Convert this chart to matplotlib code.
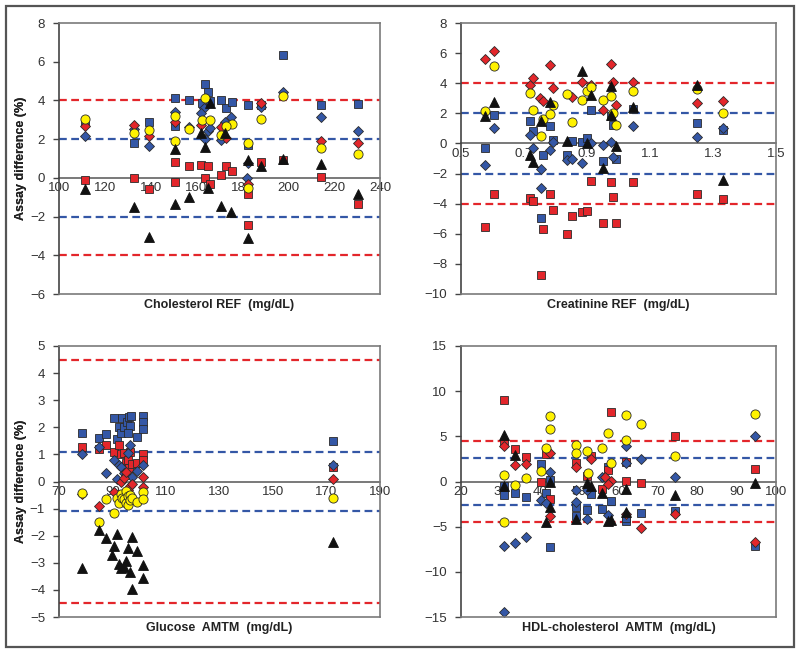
"""Bland-Altman style assay difference panels (cholesterol, creatinine, glucose, HDL)."""

import matplotlib

matplotlib.use("Agg")
import matplotlib.pyplot as plt  # noqa: E402
from matplotlib.patches import Rectangle  # noqa: E402

plt.rcParams["font.family"] = ["Liberation Sans", "DejaVu Sans"]

# ---- Cholesterol REF (mg/dL) ----
CHOL_BLUE_SQ = [(111.2, 2.9), (132.7, 1.8), (139.2, 2.9), (150.4, 4.1), (150.4, 2.7), (156.5, 4.0),
                (163.5, 4.85), (165.0, 4.42), (162.5, 3.85), (166.0, 3.95), (170.5, 4.02), (173.0, 3.63),
                (175.6, 3.94), (182.4, 3.78), (182.4, 1.7), (188.0, 3.75), (197.7, 6.37), (214.1, 3.78),
                (230.5, 3.82)]
CHOL_RED_SQ = [(111.2, -0.1), (132.7, -0.02), (139.2, -0.6), (150.4, 0.8), (150.4, -0.2), (156.5, 0.6),
               (162.0, 0.67), (165.0, 0.6), (163.5, -0.02), (165.7, -0.3), (172.7, 0.6), (175.6, 0.36),
               (170.8, 0.17), (182.4, -0.82), (182.4, -2.45), (188.0, 0.82), (197.7, 0.92), (214.1, 0.04),
               (230.5, -1.35)]
CHOL_BLUE_DIA = [(111.2, 2.17), (132.7, 2.5), (139.2, 1.65), (150.4, 3.4), (156.5, 2.65), (163.1, 3.6),
                 (162.0, 3.37), (165.0, 2.42), (166.0, 2.55), (163.5, 2.0), (175.2, 3.13), (172.3, 2.9),
                 (170.8, 1.95), (182.4, 0.75), (182.0, 0.0), (188.0, 3.65), (197.7, 4.42), (214.1, 3.12),
                 (230.5, 2.4)]
CHOL_RED_DIA = [(111.2, 2.66), (132.7, 2.75), (139.2, 2.15), (150.4, 2.9), (162.0, 2.75), (170.5, 2.65),
                (172.8, 2.05), (182.4, -0.33), (188.0, 3.85), (214.1, 1.9), (230.5, 1.78)]
CHOL_YELLOW = [(111.2, 3.04), (132.7, 2.3), (139.2, 2.45), (150.4, 3.2), (150.4, 1.9), (156.5, 2.5),
               (163.5, 4.14), (162.5, 3.0), (165.8, 3.0), (175.6, 2.8), (172.8, 2.7), (170.8, 2.22),
               (182.4, 1.82), (182.4, -0.5), (188.0, 3.05), (197.7, 4.25), (214.1, 1.55), (230.5, 1.23)]
CHOL_BLACK = [(111.2, -0.6), (132.7, -1.5), (139.2, -3.05), (150.4, 1.5), (150.4, -1.35), (156.5, -1.0),
              (166.0, 3.88), (162.0, 2.3), (163.5, 1.58), (165.0, -0.54), (172.5, 2.3), (170.5, -1.45),
              (175.2, -1.75), (182.4, 0.9), (182.4, -3.1), (188.0, 0.62), (197.7, 1.0), (214.1, 0.7),
              (230.5, -0.85)]

# ---- Creatinine REF (mg/dL) ----
CREA_BLUE_SQ = [(0.577, -0.27), (0.604, 1.88), (0.718, 1.5), (0.729, 0.84), (0.76, -0.75), (0.754, -4.92),
                (0.782, 1.18), (0.793, 0.24), (0.837, -0.75), (0.851, 0.15), (0.883, 0.1), (0.901, 0.35),
                (0.914, 2.24), (0.952, -1.15), (0.975, 1.85), (0.984, 1.22), (0.991, -1.04), (1.045, 2.31),
                (1.25, 1.35), (1.332, 0.89)]
CREA_RED_SQ = [(0.577, -5.54), (0.604, -3.39), (0.718, -3.6), (0.729, -3.79), (0.76, -5.68), (0.754, -8.76),
               (0.782, -3.33), (0.793, -4.41), (0.837, -6.0), (0.851, -4.79), (0.883, -4.57), (0.901, -4.5),
               (0.914, -2.5), (0.952, -5.3), (0.975, -2.53), (0.984, -3.53), (0.991, -5.3), (1.045, -2.59),
               (1.25, -3.39), (1.332, -3.7)]
CREA_BLUE_DIA = [(0.577, -1.42), (0.604, 1.02), (0.718, 0.55), (0.729, -0.27), (0.754, -1.69), (0.754, -2.95),
                 (0.782, -0.42), (0.793, 0.1), (0.837, -1.09), (0.851, -1.0), (0.883, -1.29), (0.914, 0.05),
                 (0.952, -0.13), (0.975, 0.1), (0.984, -0.89), (1.045, 1.13), (1.25, 0.4), (1.332, 1.0)]
CREA_RED_DIA = [(0.577, 5.63), (0.604, 6.16), (0.718, 3.9), (0.729, 4.35), (0.752, 3.02), (0.76, 2.85),
                (0.782, 5.23), (0.793, 3.68), (0.851, 3.06), (0.883, 4.1), (0.914, 3.9), (0.952, 2.25),
                (0.975, 5.28), (0.984, 4.1), (0.991, 2.55), (1.045, 4.05), (1.25, 2.66), (1.332, 2.79)]
CREA_YELLOW = [(0.577, 2.17), (0.604, 5.12), (0.718, 3.35), (0.729, 2.24), (0.76, 1.64), (0.754, 0.51),
               (0.782, 1.97), (0.793, 2.57), (0.837, 3.3), (0.851, 1.44), (0.883, 2.9), (0.901, 3.5),
               (0.914, 3.72), (0.952, 2.86), (0.975, 3.17), (0.984, 2.04), (0.991, 1.24), (1.045, 3.5),
               (1.25, 3.61), (1.332, 2.04)]
CREA_BLACK = [(0.577, 1.84), (0.604, 2.77), (0.718, -0.75), (0.729, -1.24), (0.755, 1.5), (0.782, 2.75),
              (0.837, 0.15), (0.883, 4.83), (0.901, 0.0), (0.914, 3.24), (0.952, -1.6), (0.975, 3.79),
              (0.975, 1.9), (0.991, -0.2), (1.045, 2.45), (1.25, 3.85), (1.332, -2.46)]

# ---- Glucose AMTM (mg/dL) ----
GLU_BLUE_SQ = [(78.5, 1.8), (85.0, 1.6), (87.75, 1.76), (90.5, 2.36), (91.5, 1.55), (92.5, 2.0), (93.4, 2.36),
               (93.0, 1.8), (94.25, 2.0), (95.25, 2.2), (96.0, 2.38), (96.75, 2.41), (96.5, 2.04), (95.9, 1.8),
               (99.25, 1.65), (101.5, 2.42), (101.5, 2.2), (101.5, 1.95), (172.5, 1.5)]
GLU_RED_SQ = [(78.5, 1.28), (85.0, 1.2), (87.75, 1.34), (90.5, 1.08), (92.5, 1.34), (93.0, 1.0), (94.25, 1.05),
              (95.0, 0.7), (95.9, 0.8), (96.5, 1.1), (96.0, 0.5), (97.25, 0.65), (99.25, 0.7), (101.5, 1.0),
              (101.5, 0.8), (172.5, 0.52)]
GLU_BLUE_DIA = [(78.5, 1.0), (85.0, 1.28), (87.75, 0.33), (90.5, 0.8), (91.5, 0.08), (92.5, 0.6), (93.0, 0.55),
                (94.25, 0.3), (95.0, 0.25), (95.9, 1.05), (96.5, 1.35), (97.25, 0.15), (99.25, 0.4),
                (101.5, 0.6), (172.5, 0.62)]
GLU_RED_DIA = [(78.5, -0.45), (85.0, -0.9), (90.5, -0.4), (93.0, 0.0), (94.25, 0.12), (95.0, 0.35),
               (95.9, -0.3), (96.5, -0.15), (97.25, -0.1), (101.5, 0.15), (101.5, -0.2), (172.5, 0.1)]
GLU_YELLOW = [(78.5, -0.41), (85.0, -1.48), (87.75, -0.65), (90.5, -1.16), (91.5, -0.6), (92.5, -0.81),
              (93.0, -0.45), (93.5, -0.6), (94.25, -0.65), (95.0, -0.35), (95.0, -0.8), (95.9, -0.55),
              (95.9, -0.85), (96.5, -0.5), (96.5, -0.7), (97.25, -0.6), (99.25, -0.75), (101.5, -0.4),
              (101.5, -0.65), (172.5, -0.6)]
GLU_BLACK = [(78.5, -3.21), (85.0, -1.8), (87.75, -2.1), (90.0, -2.72), (90.5, -2.39), (91.5, -1.95),
             (92.5, -3.05), (93.0, -3.2), (94.25, -3.15), (95.0, -2.94), (95.9, -2.45), (96.5, -3.35),
             (97.25, -2.06), (97.25, -3.95), (99.25, -2.55), (101.5, -3.09), (101.5, -3.55), (172.5, -2.23)]

# ---- HDL-cholesterol AMTM (mg/dL) ----
HDL_BLUE_SQ = [(31.0, -1.5), (31.0, -0.5), (33.7, -1.3), (36.4, -1.7), (40.4, 1.9), (41.6, -1.3), (42.7, 0.2),
               (42.7, -7.2), (49.1, -2.8), (49.1, -3.8), (51.9, -3.1), (52.9, -1.4), (55.9, -3.0), (57.4, 1.6),
               (58.0, -2.2), (62.0, -4.4), (62.0, -4.0), (65.6, -3.5), (74.3, -3.3), (94.7, -7.1)]
HDL_RED_SQ = [(31.0, 9.0), (31.0, 4.3), (33.7, 3.6), (36.4, 2.7), (40.4, -0.1), (41.6, 3.0), (42.7, -1.9),
              (49.1, 2.1), (51.9, 0.6), (52.9, 2.8), (55.9, -0.8), (57.4, 1.3), (58.0, 7.7), (62.0, 2.2),
              (62.0, 0.1), (65.6, -0.2), (74.3, 5.05), (94.7, 1.4)]
HDL_BLUE_DIA = [(31.0, -7.1), (31.0, -14.4), (33.7, -6.8), (36.4, -6.1), (40.4, -2.1), (41.6, -2.4), (42.7, 1.1),
                (49.1, -0.9), (49.1, -2.3), (51.9, -0.9), (51.9, -4.2), (55.9, 0.5), (57.4, -3.7), (62.0, 3.9),
                (62.0, 2.0), (65.6, 2.5), (74.3, 0.5), (94.7, 5.0)]
HDL_RED_DIA = [(31.0, 3.9), (33.7, 1.8), (36.4, 1.9), (42.7, 3.1), (42.7, -3.8), (49.1, 1.6), (52.9, 2.5),
               (56.5, 0.5), (58.0, 0.1), (57.4, -0.3), (62.0, -3.6), (65.6, -5.1), (74.3, -3.6), (94.7, -6.7)]
HDL_YELLOW = [(31.0, 0.7), (31.0, -4.5), (33.7, -0.4), (36.4, 0.4), (40.4, 1.2), (41.6, 3.7), (42.7, 7.2),
              (42.7, 5.85), (49.1, 4.0), (49.1, 3.1), (51.9, 3.4), (52.3, 0.9), (55.9, 3.7), (57.4, 5.4),
              (58.0, 2.1), (62.0, 7.4), (62.0, 4.6), (65.6, 6.4), (74.3, 2.85), (94.7, 7.5)]
HDL_BLACK = [(31.0, 5.2), (31.0, -0.5), (33.7, 2.9), (41.6, -4.5), (42.7, -0.1), (42.7, -2.8), (49.1, -4.2),
             (51.9, -0.2), (52.9, -0.5), (55.9, -1.3), (57.4, -4.4), (58.0, -4.3), (62.0, -0.8), (62.0, -3.4),
             (74.3, -1.5), (94.7, -0.2)]

# limits of agreement drawn as dashed lines (red outer, blue inner)
RED_LIMITS = [4.0, 4.0, 4.5, 4.5]
BLUE_LIMITS = [2.0, 2.0, 1.08, 2.6]

X_LABELS = ["Cholesterol REF  (mg/dL)", "Creatinine REF  (mg/dL)",
            "Glucose  AMTM  (mg/dL)", "HDL-cholesterol  AMTM  (mg/dL)"]
X_TICKS = [list(range(100, 241, 20)), [0.5, 0.7, 0.9, 1.1, 1.3, 1.5],
           list(range(70, 191, 20)), list(range(20, 101, 10))]
Y_TICKS = [list(range(-6, 9, 2)), list(range(-10, 9, 2)),
           list(range(-5, 6, 1)), list(range(-15, 16, 5))]

BLUE = "#3457a6"
RED = "#e3262b"
YELLOW = "#fff200"
EDGE = "#2a2a2a"

STYLES = [
    # marker, size, face colour
    ("s", 6.3, BLUE),
    ("s", 6.3, RED),
    ("D", 4.8, BLUE),
    ("D", 4.8, RED),
    ("o", 6.6, YELLOW),
    ("^", 7.2, "#111111"),
]

PANELS = [
    [CHOL_BLUE_SQ, CHOL_RED_SQ, CHOL_BLUE_DIA, CHOL_RED_DIA, CHOL_YELLOW, CHOL_BLACK],
    [CREA_BLUE_SQ, CREA_RED_SQ, CREA_BLUE_DIA, CREA_RED_DIA, CREA_YELLOW, CREA_BLACK],
    [GLU_BLUE_SQ, GLU_RED_SQ, GLU_BLUE_DIA, GLU_RED_DIA, GLU_YELLOW, GLU_BLACK],
    [HDL_BLUE_SQ, HDL_RED_SQ, HDL_BLUE_DIA, HDL_RED_DIA, HDL_YELLOW, HDL_BLACK],
]

W, H = 800, 652
AXES_PX = [(59, 23, 380, 294), (461, 23, 776, 294), (59, 346, 380, 617), (461, 346, 776, 617)]

fig = plt.figure(figsize=(W / 100, H / 100), dpi=100)
fig.patches.append(Rectangle((6 / W, 5 / H), 788 / W, 641 / H, transform=fig.transFigure,
                             fill=False, edgecolor="#555555", linewidth=1.6))

for i, (left, top, right, bottom) in enumerate(AXES_PX):
    ax = fig.add_axes([left / W, 1 - bottom / H, (right - left) / W, (bottom - top) / H])
    xt, yt = X_TICKS[i], Y_TICKS[i]
    ax.set_xlim(xt[0], xt[-1])
    ax.set_ylim(yt[0], yt[-1])
    ax.set_xticks(xt)
    ax.set_yticks(yt)
    ax.set_xticklabels([f"{v:g}" for v in xt])

    for lim, color in ((RED_LIMITS[i], RED), (BLUE_LIMITS[i], BLUE)):
        for sign in (1, -1):
            ax.axhline(sign * lim, color=color, lw=1.6, dashes=(3.5, 2.0), zorder=1)

    for points, (marker, size, face) in zip(PANELS[i], STYLES):
        xs = [p[0] for p in points]
        ys = [p[1] for p in points]
        edge = face if marker == "^" else EDGE
        ax.plot(xs, ys, linestyle="none", marker=marker, markersize=size, markerfacecolor=face,
                markeredgecolor=edge, markeredgewidth=0.6, zorder=3)

    # x axis crosses at zero, plot area keeps a grey frame
    ax.spines["bottom"].set_position(("data", 0))
    ax.spines["bottom"].set_color("#555555")
    ax.spines["bottom"].set_linewidth(1.1)
    ax.spines["bottom"].set_zorder(2)
    for side in ("top", "right"):
        ax.spines[side].set_color("#7a7a7a")
        ax.spines[side].set_linewidth(1.2)
    ax.spines["left"].set_color("#444444")
    ax.spines["left"].set_linewidth(1.2)
    ax.plot([0, 1], [0, 0], transform=ax.transAxes, color="#7a7a7a", lw=1.2, clip_on=False, zorder=5)

    ax.tick_params(axis="x", length=0, pad=3, labelsize=9.5, labelcolor="#333333")
    ax.tick_params(axis="y", direction="out", length=4, width=1, color="#444444",
                   pad=6, labelsize=9.5, labelcolor="#333333")

    ax.set_xlabel(X_LABELS[i], fontsize=9, fontweight="bold", color="#222222")
    ax.xaxis.set_label_coords(0.5, -0.02, transform=ax.transAxes)
    ax.xaxis.label.set_va("top")
    ax.set_ylabel("Assay difference (%)", fontsize=9, fontweight="bold", color="#222222")
    ax.yaxis.set_label_coords((27 - left) / (right - left), 0.5)

fig.savefig("out.png", dpi=100)
plt.close(fig)
